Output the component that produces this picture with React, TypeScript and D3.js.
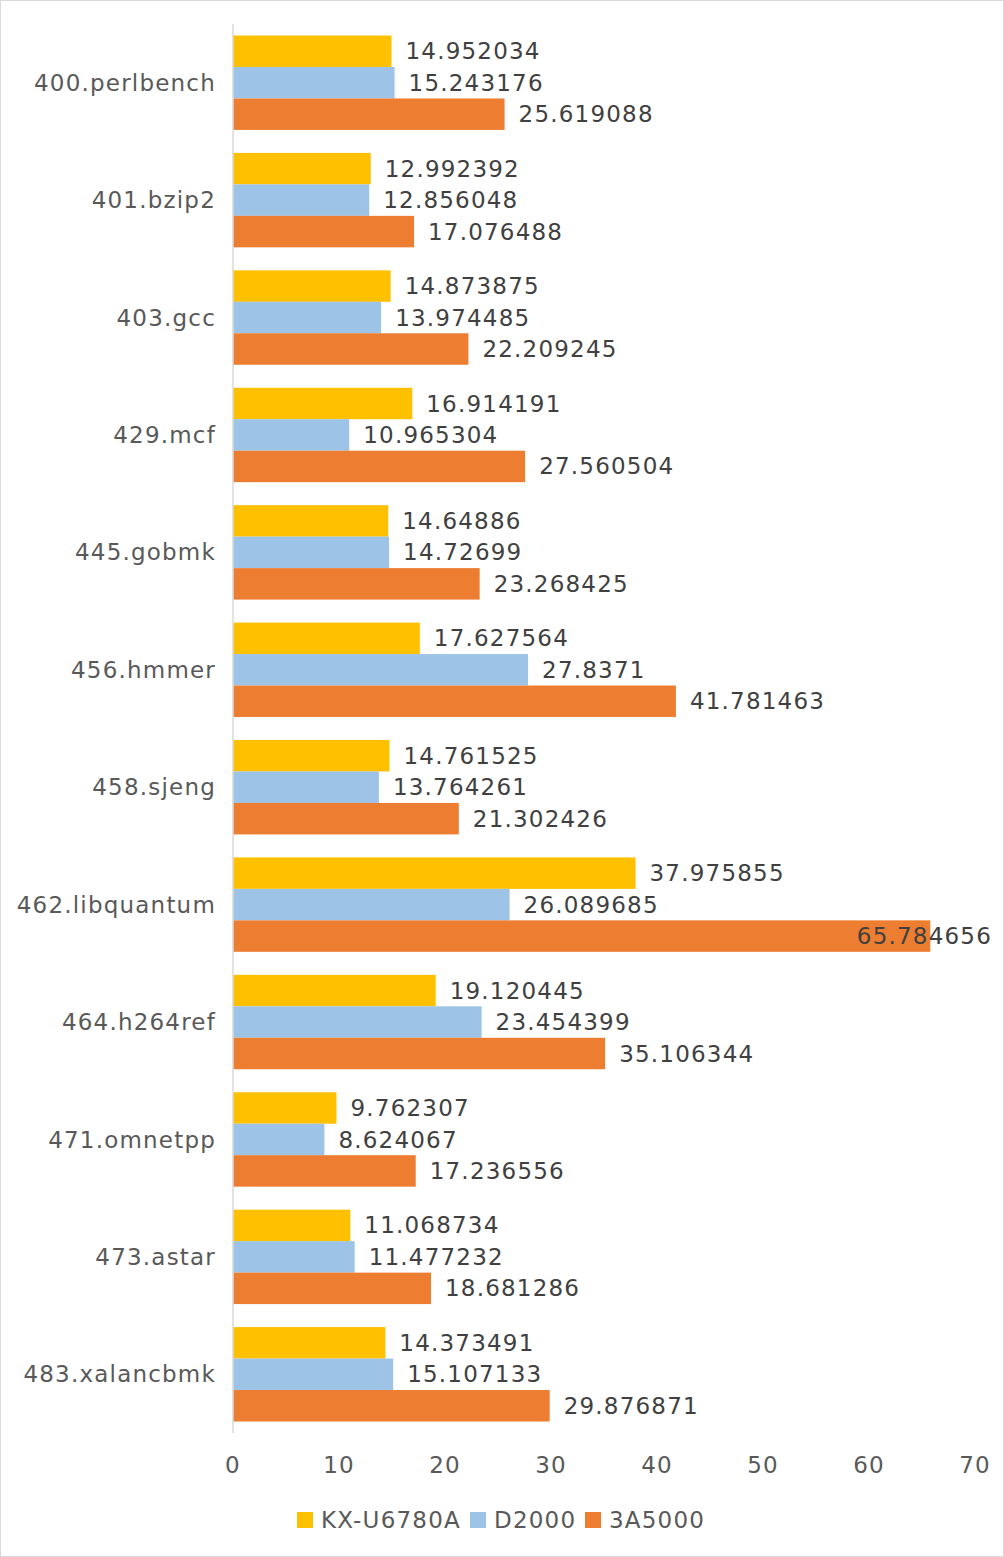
import React from "react";
import * as d3 from "d3";

const categories = ["400.perlbench","401.bzip2","403.gcc","429.mcf","445.gobmk","456.hmmer","458.sjeng","462.libquantum","464.h264ref","471.omnetpp","473.astar","483.xalancbmk"];
const kx = ["14.952034","12.992392","14.873875","16.914191","14.64886","17.627564","14.761525","37.975855","19.120445","9.762307","11.068734","14.373491"];
const d2000 = ["15.243176","12.856048","13.974485","10.965304","14.72699","27.8371","13.764261","26.089685","23.454399","8.624067","11.477232","15.107133"];
const a5000 = ["25.619088","17.076488","22.209245","27.560504","23.268425","41.781463","21.302426","65.784656","35.106344","17.236556","18.681286","29.876871"];
const seriesNames = ["KX-U6780A","D2000","3A5000"];
const colors = ["#FFC000","#9DC3E6","#ED7D31"];
const ticks = [0,10,20,30,40,50,60,70];

export default function App() {
  const W = 1004, H = 1557;
  const x = d3.scaleLinear().domain([0,70]).range([233,975]);
  const y = d3.scaleBand().domain(categories).range([24,1433]).paddingInner(0.196).paddingOuter(0.098);
  const series = [kx,d2000,a5000];
  const bh = y.bandwidth()/3;
  const font = "DejaVu Sans, sans-serif";
  const legendX = [297,470,585];
  const fs = 23, ls = 1.2;
  return (
    <svg width={W} height={H} style={{position:"absolute",left:0,top:0}} fontFamily={font}>
      <rect x={0.5} y={0.5} width={W-1} height={H-1} fill="#fff" stroke="#d9d9d9"/>
      {categories.map((c,i)=>(
        <g key={c}>
          {series.map((s,j)=>{
            const v=+s[i]; const yy=(y(c) as number)+j*bh;
            const overflow = x(v)+14+s[i].length*15 > 995;
            return <g key={j}>
              <rect x={x(0)} y={yy} width={x(v)-x(0)} height={bh} fill={colors[j]}/>
              <text x={overflow?992:x(v)+14} y={yy+bh/2} dy="0.35em" textAnchor={overflow?"end":"start"} fontSize={fs} fill="#404040" letterSpacing={ls}>{s[i]}</text>
            </g>;
          })}
          <text x={216} y={(y(c) as number)+y.bandwidth()/2} dy="0.35em" textAnchor="end" fontSize={fs} fill="#595959" letterSpacing={ls}>{c}</text>
        </g>
      ))}
      <line x1={x(0)} x2={x(0)} y1={24} y2={1433} stroke="#d9d9d9" strokeWidth={1.5}/>
      {ticks.map(t=>(
        <text key={t} x={x(t)} y={1465} dy="0.35em" textAnchor="middle" fontSize={fs} fill="#595959" letterSpacing={ls}>{t}</text>
      ))}
      {seriesNames.map((n,i)=>(
        <g key={n}>
          <rect x={legendX[i]} y={1512} width={16} height={16} fill={colors[i]}/>
          <text x={legendX[i]+24} y={1520} dy="0.35em" fontSize={fs} fill="#595959" letterSpacing={ls}>{n}</text>
        </g>
      ))}
    </svg>
  );
}
